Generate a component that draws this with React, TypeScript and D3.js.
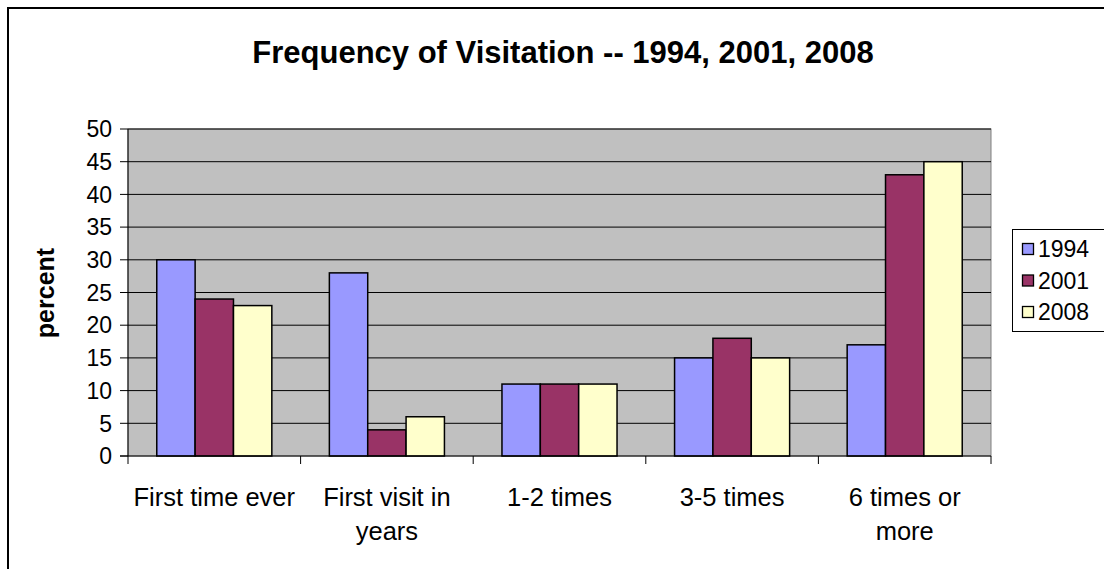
import React from "react";
import * as d3 from "d3";

const categories = ["First time ever", "First visit in years", "1-2 times", "3-5 times", "6 times or more"];
const categoryLines = [["First time ever"], ["First visit in", "years"], ["1-2 times"], ["3-5 times"], ["6 times or", "more"]];
const seriesNames = ["1994", "2001", "2008"];
const values1994 = [30, 28, 11, 15, 17];
const values2001 = [24, 4, 11, 18, 43];
const values2008 = [23, 6, 11, 15, 45];
const yTicks = [0, 5, 10, 15, 20, 25, 30, 35, 40, 45, 50];
const colors = ["#9999FF", "#993366", "#FFFFCC"];

export default function App() {
  const W = 1104, H = 569;
  const left = 128, right = 991, top = 129, bottom = 456;
  const x0 = d3.scaleBand<string>().domain(categories).range([left, right]).paddingInner(0).paddingOuter(0);
  const bw = x0.bandwidth() / 4.5;
  const y = d3.scaleLinear().domain([0, 50]).range([bottom, top]);
  const series = [values1994, values2001, values2008];
  const font = "Arial, 'Liberation Sans', sans-serif";

  return (
    <svg width={W} height={H} style={{ position: "absolute", left: 0, top: 0, background: "#fff" }} fontFamily={font}>
      <rect x={8} y={8} width={W} height={H} fill="#fff" stroke="#000" strokeWidth={2} />
      <text x={563} y={63} textAnchor="middle" fontSize={31} fontWeight="bold">Frequency of Visitation -- 1994, 2001, 2008</text>
      <rect x={left} y={top} width={right - left} height={bottom - top} fill="#C0C0C0" stroke="#808080" strokeWidth={1} />
      {yTicks.map((t) => (
        <g key={t}>
          {t > 0 && <line x1={left} x2={right} y1={y(t)} y2={y(t)} stroke="#000" strokeWidth={1} />}
          <line x1={left - 8} x2={left} y1={y(t)} y2={y(t)} stroke="#000" strokeWidth={1} />
          <text x={left - 16} y={y(t)} dy="0.36em" textAnchor="end" fontSize={23}>{t}</text>
        </g>
      ))}
      {series.map((vals, si) =>
        vals.map((v, ci) => {
          const xx = (x0(categories[ci]) as number) + 0.75 * bw + si * bw;
          return (
            <rect key={`${si}-${ci}`} x={xx} y={y(v)} width={bw} height={bottom - y(v)} fill={colors[si]} stroke="#000" strokeWidth={1.5} />
          );
        })
      )}
      <line x1={left} x2={left} y1={top} y2={bottom + 8} stroke="#000" strokeWidth={1} />
      <line x1={left - 8} x2={right} y1={bottom} y2={bottom} stroke="#000" strokeWidth={1} />
      {categories.map((c) => (
        <line key={c} x1={(x0(c) as number) + x0.bandwidth()} x2={(x0(c) as number) + x0.bandwidth()} y1={bottom} y2={bottom + 8} stroke="#000" strokeWidth={1} />
      ))}
      {categories.map((c, i) => (
        <text key={c} x={(x0(c) as number) + x0.bandwidth() / 2} y={506} textAnchor="middle" fontSize={25.5}>
          {categoryLines[i].map((ln, k) => (
            <tspan key={k} x={(x0(c) as number) + x0.bandwidth() / 2} dy={k === 0 ? 0 : 34}>{ln}</tspan>
          ))}
        </text>
      ))}
      <text transform="translate(54,293) rotate(-90)" textAnchor="middle" fontSize={25} fontWeight="bold">percent</text>
      <rect x={1012.5} y={229.5} width={120} height={102} fill="#fff" stroke="#000" strokeWidth={1} />
      {seriesNames.map((s, i) => (
        <g key={s}>
          <rect x={1022.5} y={243.5 + i * 31.5} width={11} height={11} fill={colors[i]} stroke="#000" strokeWidth={1.3} />
          <text x={1038} y={249 + i * 31.5} dy="0.36em" fontSize={23}>{s}</text>
        </g>
      ))}
    </svg>
  );
}
